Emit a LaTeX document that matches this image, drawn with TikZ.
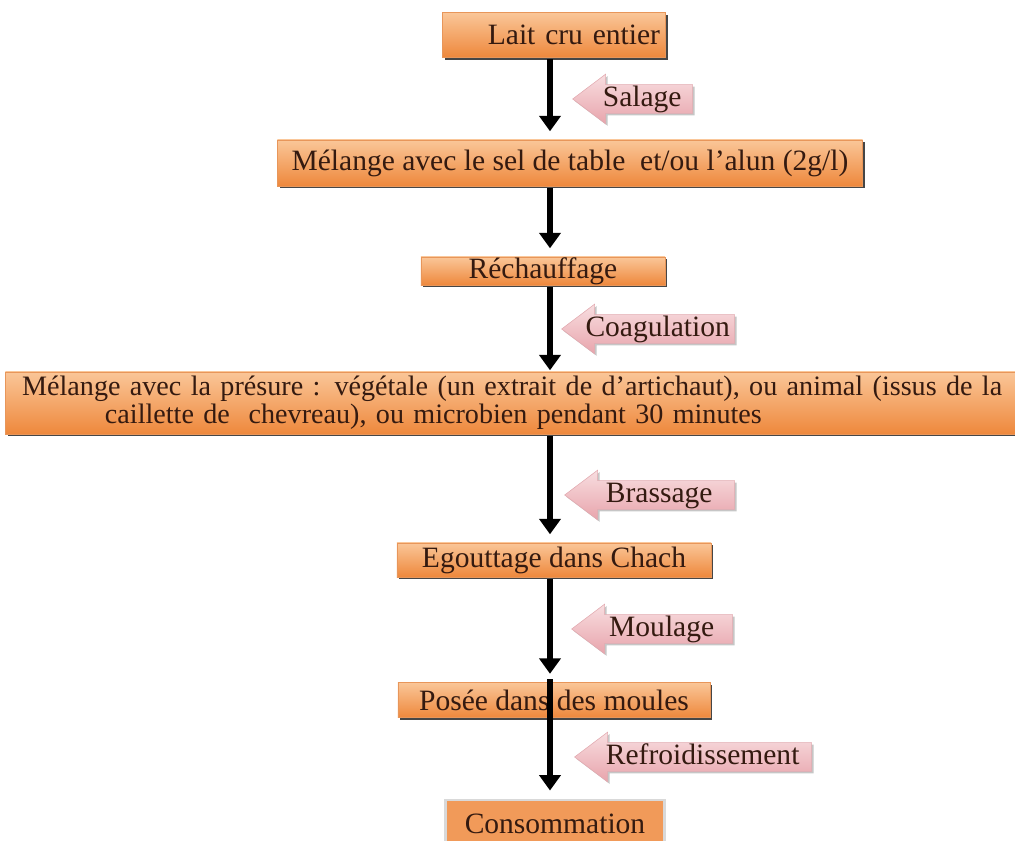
\documentclass[tikz,border=0pt]{standalone}
\usepackage{fontspec}
\setmainfont{Liberation Serif}
\usepackage{tikz}
\usetikzlibrary{positioning,arrows.meta,calc,shapes.arrows,shadows}
\definecolor{boxtop}{RGB}{250,198,152}
\definecolor{boxbot}{RGB}{238,136,60}
\definecolor{boxedge}{RGB}{232,150,90}
\definecolor{pinktop}{RGB}{248,222,224}
\definecolor{pinkbot}{RGB}{232,164,172}
\definecolor{pinkedge}{RGB}{226,170,176}
\definecolor{inktext}{RGB}{52,26,16}
\tikzset{
  stepbox/.style={draw=boxedge, top color=boxtop, bottom color=boxbot, text=inktext,
                  font=\fontsize{21}{21}\selectfont, inner xsep=4pt, inner ysep=0pt,
                  drop shadow={shadow xshift=1.6pt, shadow yshift=-1.6pt, fill=black!85, opacity=0.85}},
  lastbox/.style={draw=black!15, line width=1.5pt, fill=boxbot!85!white, text=inktext,
                  font=\fontsize{21}{21}\selectfont, inner sep=0pt},
  flow/.style={-{Triangle[width=15pt,length=11pt]}, line width=3.6pt, shorten >=6pt, shorten <=1pt},
  oparrow/.style={single arrow, shape border rotate=180, single arrow head extend=7.5pt,
                  single arrow tip angle=74, draw=pinkedge, top color=pinktop, bottom color=pinkbot,
                  text=inktext, font=\fontsize{21}{21}\selectfont, text height=14.5pt, text depth=4.5pt,
                  inner xsep=3pt, inner ysep=0.5pt,
                  drop shadow={shadow xshift=1.4pt, shadow yshift=-1.4pt, fill=black!50, opacity=0.45}}
}

\begin{document}
\begin{tikzpicture}[x=0.025cm, y=-0.025cm]
  \useasboundingbox (0,0) rectangle (1015,841);
  \coordinate (ax) at (550,0);
  % steps
  \node[stepbox, minimum width=5.575cm, minimum height=1.125cm, text width=5.3cm, align=right] (lait) at (554,35) {Lait cru entier};
  \node[stepbox, minimum width=14.625cm, minimum height=1.15cm] (sel) at (570,163) {Mélange avec le sel de table\ \ et/ou l’alun (2g/l)};
  \node[stepbox, minimum width=6.1cm, minimum height=0.7cm] (rech) at (543,271) {Réchauffage};
  \node[stepbox, anchor=west, minimum width=25.75cm, minimum height=1.55cm, text width=25.3cm, align=left, inner xsep=12pt,
        font=\fontsize{20}{20}\selectfont] (presure) at (5,403)
    {Mélange avec la présure : végétale (un extrait de d’artichaut), ou animal (issus de la\\\hspace*{2.07cm}caillette de\ \ chevreau), ou microbien pendant 30 minutes};
  \node[stepbox, minimum width=7.85cm, minimum height=0.85cm] (egout) at (554,560) {Egouttage dans Chach};
  \node[stepbox, minimum width=7.8cm, minimum height=0.875cm] (posee) at (554,700) {Posée dans des moules};
  \node[lastbox, minimum width=5.475cm, minimum height=1.2cm] (conso) at (555,824) {Consommation};
  % operations
  \node[oparrow, anchor=east, minimum height=3cm] (salage) at (693,99) {Salage};
  \node[oparrow, anchor=east, minimum height=4.325cm] (coag) at (735,329) {Coagulation};
  \node[oparrow, anchor=east, minimum height=4.25cm] (brass) at (735,495) {Brassage};
  \node[oparrow, anchor=east, minimum height=4.025cm] (moul) at (733,629) {Moulage};
  \node[oparrow, anchor=east, minimum height=5.925cm] (refr) at (812,757) {Refroidissement};
  % flow
  \draw[flow] (lait.south -| ax) -- (sel.north -| ax);
  \draw[flow] (sel.south -| ax) -- (rech.north -| ax);
  \draw[flow, shorten >=1pt] (rech.south -| ax) -- (presure.north -| ax);
  \draw[flow] (presure.south -| ax) -- (egout.north -| ax);
  \draw[flow] (egout.south -| ax) -- (posee.north -| ax);
  \draw[flow, shorten <=-2pt] (posee.north -| ax) -- (conso.north -| ax);
\end{tikzpicture}
\end{document}
